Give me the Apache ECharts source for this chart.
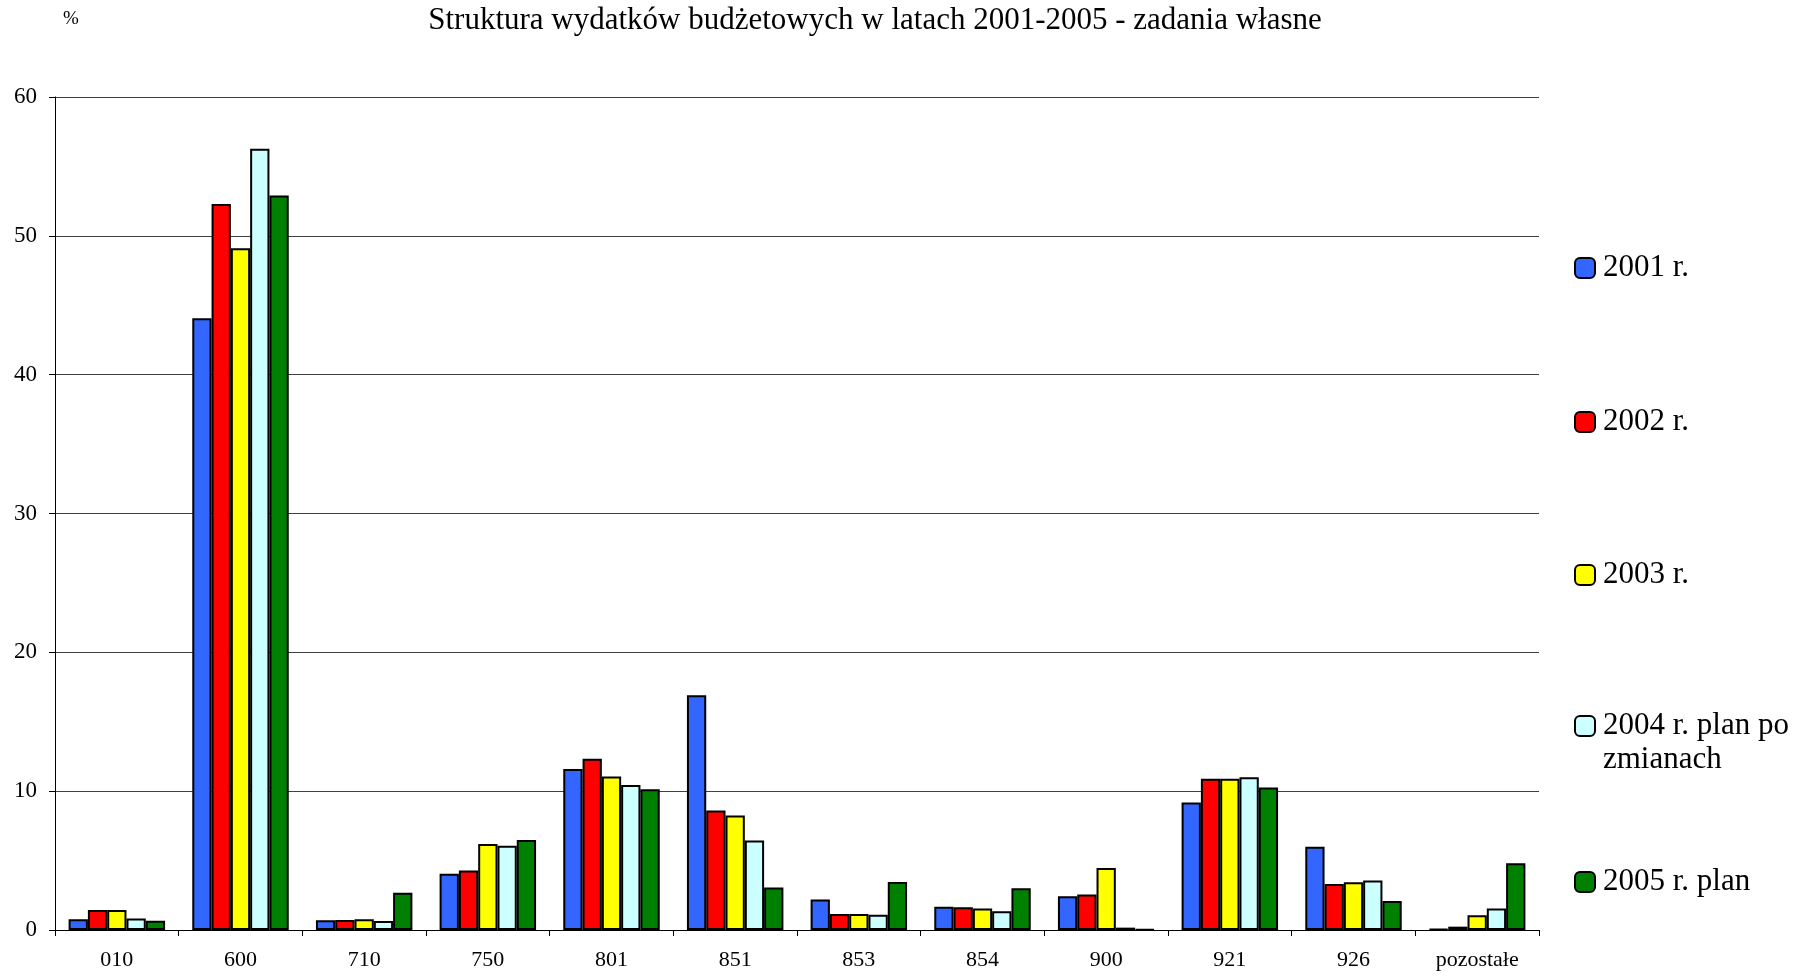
<!DOCTYPE html>
<html>
<head>
<meta charset="utf-8">
<script src="https://cdn.jsdelivr.net/npm/echarts@6/dist/echarts.min.js"></script>
<style>
html,body{margin:0;padding:0;background:#fff;}
#chart{width:1807px;height:976px;}
</style>
</head>
<body>
<div id="chart"></div>
<script>
const titleText = 'Struktura wydatków budżetowych w latach 2001-2005 - zadania własne';
const categories = ['010','600','710','750','801','851','853','854','900','921','926','pozostałe'];
const seriesNames = ['2001 r.','2002 r.','2003 r.','2004 r. plan po zmianach','2005 r. plan'];
const legendLabels = ['2001 r.','2002 r.','2003 r.','\n2004 r. plan po\nzmianach','2005 r. plan'];
const colors = ['#3366FF','#FF0000','#FFFF00','#CCFFFF','#008000'];
const y2001 = [0.77, 44.07, 0.70, 4.06, 11.6, 16.9, 2.2, 1.68, 2.43, 9.19, 6.0, 0.07];
const y2002 = [1.44, 52.3, 0.72, 4.28, 12.33, 8.6, 1.15, 1.63, 2.55, 10.9, 3.32, 0.24];
const y2003 = [1.44, 49.1, 0.77, 6.2, 11.06, 8.25, 1.15, 1.54, 4.47, 10.9, 3.44, 1.06];
const y2004 = [0.82, 56.27, 0.65, 6.06, 10.45, 6.45, 1.1, 1.35, 0.17, 11.0, 3.56, 1.54];
const y2005 = [0.67, 52.9, 2.69, 6.49, 10.13, 3.07, 3.46, 3.0, 0.05, 10.27, 2.09, 4.8];
const yTicks = [0, 10, 20, 30, 40, 50, 60];
const allValues = [y2001, y2002, y2003, y2004, y2005];

const FONT = '"Liberation Serif", "DejaVu Serif", serif';
const legendCenters = [263, 417, 570, 721, 877];

const chart = echarts.init(document.getElementById('chart'), null, {renderer: 'canvas'});

const legends = seriesNames.map((name, i) => {
  const lines = legendLabels[i].split('\n').length;
  return {
    orient: 'vertical',
    left: 1569,
    top: legendCenters[i] - 17 * lines,
    itemWidth: 20,
    itemHeight: 20,
    itemGap: 0,
    selectedMode: false,
    data: [{
      name: name,
      itemStyle: {color: colors[i], borderColor: '#000', borderWidth: 2}
    }],
    formatter: () => legendLabels[i],
    textStyle: {
      fontFamily: FONT, fontSize: 31, color: '#000', lineHeight: 34,
      padding: [0, 0, 0, 3]
    }
  };
});

chart.setOption({
  animation: false,
  backgroundColor: '#fff',
  title: {
    text: titleText,
    left: 870,
    textAlign: 'center',
    top: 0,
    textStyle: {fontFamily: FONT, fontSize: 31, fontWeight: 'normal', color: '#000'}
  },
  legend: legends,
  grid: {left: 55, right: 268, top: 97, bottom: 46, containLabel: false},
  xAxis: {
    type: 'category',
    data: categories,
    axisLine: {lineStyle: {color: '#000', width: 1}},
    axisTick: {show: true, length: 6, lineStyle: {color: '#000'}, alignWithLabel: false},
    axisLabel: {fontFamily: FONT, fontSize: 22, color: '#000', margin: 19}
  },
  yAxis: {
    type: 'value',
    min: 0, max: 60, interval: 10,
    name: '%',
    nameLocation: 'end',
    nameGap: 68,
    nameTextStyle: {fontFamily: FONT, fontSize: 19, color: '#000', align: 'left', padding: [0,0,0,8]},
    axisLine: {show: true, lineStyle: {color: '#000', width: 1}},
    axisTick: {show: true, length: 6, lineStyle: {color: '#000'}},
    axisLabel: {fontFamily: FONT, fontSize: 23, color: '#000', margin: 18,
      formatter: v => yTicks.indexOf(v) >= 0 ? String(v) : ''},
    splitLine: {show: true, lineStyle: {color: '#404040', width: 1}}
  },
  series: seriesNames.map((name, i) => ({
    name: name,
    type: 'bar',
    data: allValues[i],
    barGap: '0%',
    barCategoryGap: '22%',
    itemStyle: {color: colors[i], borderColor: '#000', borderWidth: 2}
  }))
});
</script>
</body>
</html>
